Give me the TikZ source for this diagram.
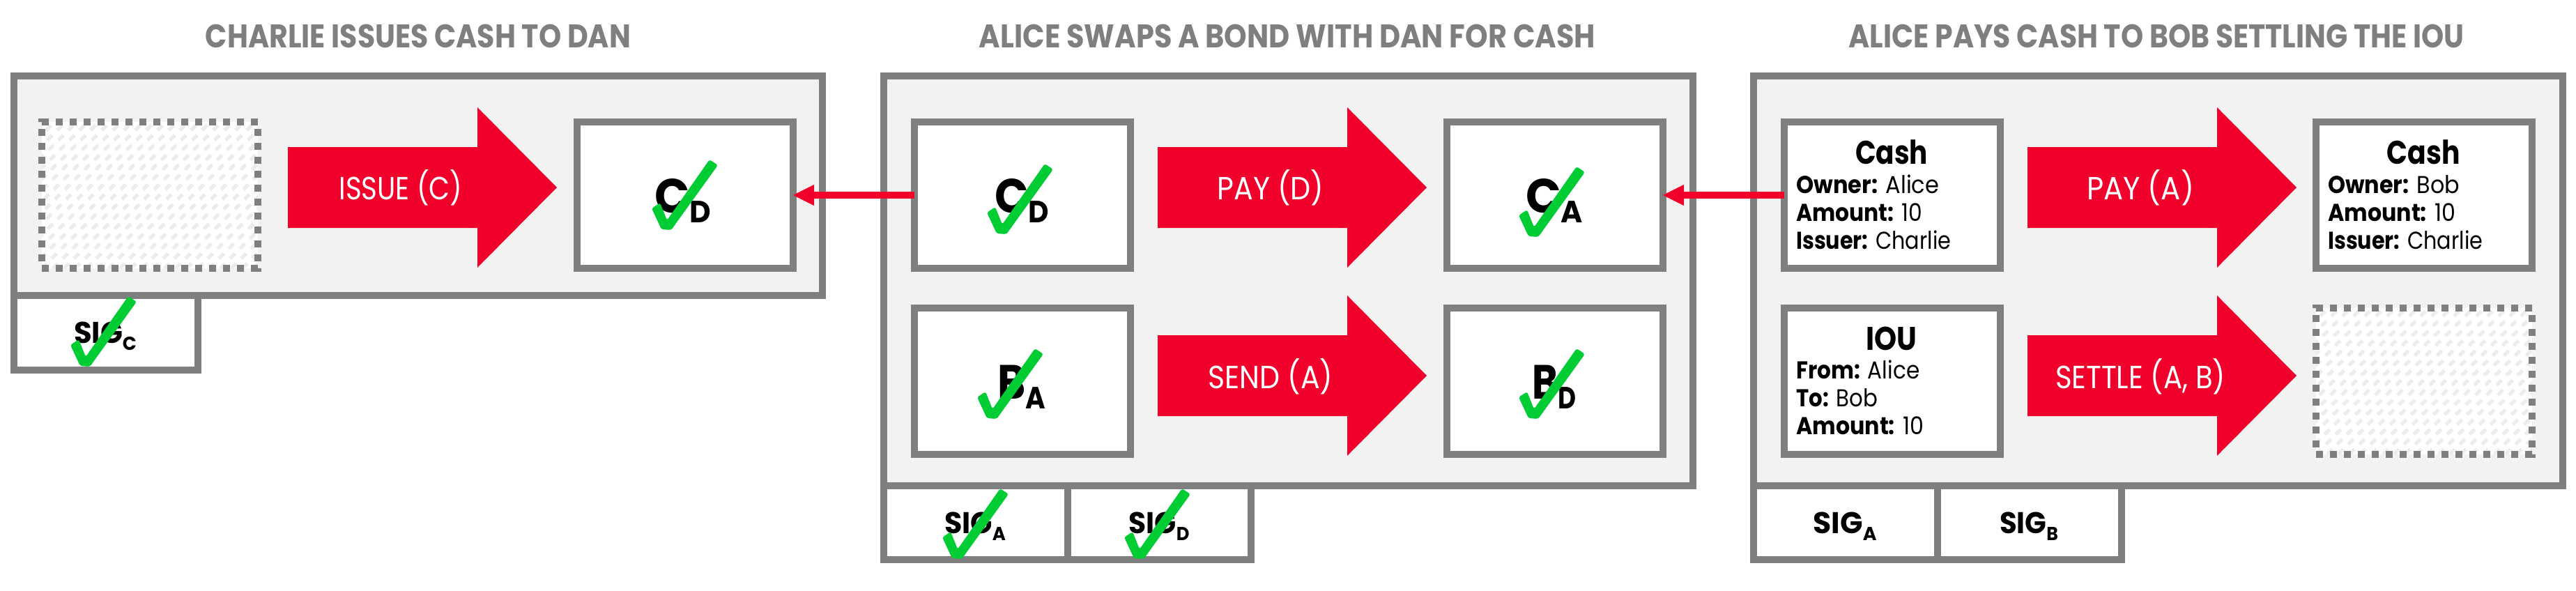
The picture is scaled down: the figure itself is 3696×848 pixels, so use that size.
\documentclass[tikz,border=0pt]{standalone}
\usepackage{fontspec}
\setmainfont{Poppins}
\usepackage{graphicx}
\usetikzlibrary{arrows.meta}
\definecolor{cgray}{RGB}{127,127,127}
\definecolor{cpanel}{RGB}{242,242,242}
\definecolor{cred}{RGB}{240,0,42}
\definecolor{cgreen}{RGB}{0,204,51}
\definecolor{cstripe}{RGB}{236,236,236}
\newcommand{\fw}[2]{\resizebox{#1pt}{\height}{#2}}
\newcommand{\bigsub}[1]{{\fontsize{44pt}{44pt}\selectfont\raisebox{-14pt}{#1}}}
\newcommand{\sigsub}[1]{{\fontsize{27pt}{27pt}\selectfont\raisebox{-10pt}{#1}}}
\newcommand{\chkmark}[2]{\fill[chk, shift={(#1,#2)}] (-19,-32) -- (-7,-40) -- (3,-15) -- (64,-102) -- (76,-94) -- (9,-1) -- (-5,-2) -- cycle;}
\newcommand{\blockarrow}[2]{\fill[cred] (#1,#2-58) -- (#1+272,#2-58) -- (#1+272,#2-115) -- (#1+386,#2) -- (#1+272,#2+115) -- (#1+272,#2+58) -- (#1,#2+58) -- cycle;}
\tikzset{
  panel/.style={draw=cgray, fill=cpanel, line width=10pt, inner sep=0pt, outer sep=0pt},
  sigbox/.style={draw=cgray, fill=white, line width=10pt, inner sep=0pt, outer sep=0pt},
  objbox/.style={draw=cgray, fill=white, line width=10pt, inner sep=0pt, outer sep=0pt,
                 minimum width=310pt, minimum height=210pt},
  emptybox/.style={draw=cgray, fill=white, line width=10pt, dash pattern=on 10pt off 10pt,
                 inner sep=0pt, outer sep=0pt, minimum width=310pt, minimum height=210pt,
                 path picture={\foreach \k in {-240,-224,...,340}
                   \draw[cstripe, line width=5pt] ([xshift=\k pt]path picture bounding box.south west) -- ++(240,-240);}},
  ttl/.style={inner sep=0pt, anchor=base, text=cgray, font=\fontsize{47pt}{50pt}\selectfont\bfseries},
  albl/.style={inner sep=0pt, anchor=base, text=white, font=\fontsize{46pt}{50pt}\selectfont},
  olbl/.style={inner sep=0pt, anchor=base, text=black, font=\fontsize{69pt}{70pt}\selectfont\bfseries},
  slbl/.style={inner sep=0pt, anchor=base, text=black, font=\fontsize{43pt}{45pt}\selectfont\bfseries},
  ctitle/.style={inner sep=0pt, anchor=base, text=black, font=\fontsize{47pt}{50pt}\selectfont\bfseries},
  cline/.style={inner sep=0pt, anchor=base west, text=black, font=\fontsize{35pt}{38pt}\selectfont},
  chk/.style={fill=cgreen, rounded corners=3pt},
  conn/.style={draw=cred, line width=10pt, -{Triangle[length=30pt,width=30pt,line width=1pt]}}
}
\begin{document}
\begin{tikzpicture}[x=1pt,y=-1pt]
\useasboundingbox (0,0) rectangle (3696,848);
% titles
\node[ttl] (t1) at (600,69) {\fw{610}{CHARLIE ISSUES CASH TO DAN}};
\node[ttl] (t2) at (1847,69) {\fw{884}{ALICE SWAPS A BOND WITH DAN FOR CASH}};
\node[ttl] (t3) at (3094,69) {\fw{883}{ALICE PAYS CASH TO BOB SETTLING THE IOU}};
% signature boxes
\node[sigbox, minimum width=264pt, minimum height=107pt] (s1c) at (152,477.5) {};
\node[sigbox, minimum width=264pt, minimum height=106pt] (s2a) at (1400,750) {};
\node[sigbox, minimum width=263pt, minimum height=106pt] (s2d) at (1663.5,750) {};
\node[sigbox, minimum width=264pt, minimum height=106pt] (s3a) at (2648,750) {};
\node[sigbox, minimum width=264pt, minimum height=106pt] (s3b) at (2912,750) {};
% panels
\node[panel, minimum width=1160pt, minimum height=315pt] (pan1) at (600,266.5) {};
\node[panel, minimum width=1161pt, minimum height=588pt] (pan2) at (1848.5,403) {};
\node[panel, minimum width=1161pt, minimum height=588pt] (pan3) at (3096.5,403) {};
% inner boxes
\node[emptybox] (p1e) at (215,280) {};
\node[objbox] (p1cd) at (983,280) {};
\node[objbox] (p2cd) at (1467,280) {};
\node[objbox] (p2ca) at (2231,280) {};
\node[objbox] (p2ba) at (1467,546.5) {};
\node[objbox] (p2bd) at (2231,546.5) {};
\node[objbox] (p3ca) at (2715,280) {};
\node[objbox] (p3cb) at (3478,280) {};
\node[objbox] (p3iou) at (2715,546.5) {};
\node[emptybox] (p3e) at (3478,546.5) {};
% block arrows
\blockarrow{413}{269}
\blockarrow{1661}{269}
\blockarrow{1661}{539}
\blockarrow{2909}{269}
\blockarrow{2909}{539}
\node[albl] (a1) at (575,286) {\fw{177}{ISSUE (C)}};
\node[albl] (a2) at (1823,286) {\fw{153}{PAY (D)}};
\node[albl] (a3) at (1823,557) {\fw{179}{SEND (A)}};
\node[albl] (a4) at (3071,286) {\fw{154}{PAY (A)}};
\node[albl] (a5) at (3071,557) {\fw{244}{SETTLE (A, B)}};
% object labels
\node[olbl] (l1cd) at (980,305) {\fw{81}{C\bigsub{D}}};
\node[olbl] (l2cd) at (1466,305) {\fw{78}{C\bigsub{D}}};
\node[olbl] (l2ca) at (2230,305) {\fw{82}{C\bigsub{A}}};
\node[olbl] (l2ba) at (1466,572) {\fw{69}{B\bigsub{A}}};
\node[olbl] (l2bd) at (2230,572) {\fw{63}{B\bigsub{D}}};
% signature labels
\node[slbl] (g1c) at (151,492) {\fw{90}{SIG\sigsub{C}}};
\node[slbl] (g2a) at (1399,765) {\fw{88}{SIG\sigsub{A}}};
\node[slbl] (g2d) at (1663,765) {\fw{87}{SIG\sigsub{D}}};
\node[slbl] (g3a) at (2647,765) {\fw{91}{SIG\sigsub{A}}};
\node[slbl] (g3b) at (2911,765) {\fw{84}{SIG\sigsub{B}}};
% cash / IOU contents
\node[ctitle] (c1t) at (2714,235) {\fw{104}{Cash}};
\node[cline] (c1a) at (2577,277) {\fw{205}{\textbf{Owner:} Alice}};
\node[cline] (c1b) at (2577,317) {\fw{181}{\textbf{Amount:} 10}};
\node[cline] (c1c) at (2577,357) {\fw{222}{\textbf{Issuer:} Charlie}};
\node[ctitle] (c2t) at (3477,235) {\fw{105}{Cash}};
\node[cline] (c2a) at (3340,277) {\fw{189}{\textbf{Owner:} Bob}};
\node[cline] (c2b) at (3340,317) {\fw{183}{\textbf{Amount:} 10}};
\node[cline] (c2c) at (3340,357) {\fw{222}{\textbf{Issuer:} Charlie}};
\node[ctitle] (c3t) at (2714,502) {\fw{73}{IOU}};
\node[cline] (c3a) at (2577,543) {\fw{177}{\textbf{From:} Alice}};
\node[cline] (c3b) at (2577,583) {\fw{117}{\textbf{To:} Bob}};
\node[cline] (c3c) at (2577,623) {\fw{183}{\textbf{Amount:} 10}};
% check marks
\chkmark{954}{331}
\chkmark{120}{527}
\chkmark{1435}{337}
\chkmark{2198}{341}
\chkmark{1421}{602}
\chkmark{2198}{602}
\chkmark{1371}{803}
\chkmark{1632}{803}
% connectors
\draw[conn] (p2cd.west) -- (p1cd.east);
\draw[conn] (p3ca.west) -- (p2ca.east);
\end{tikzpicture}
\end{document}
